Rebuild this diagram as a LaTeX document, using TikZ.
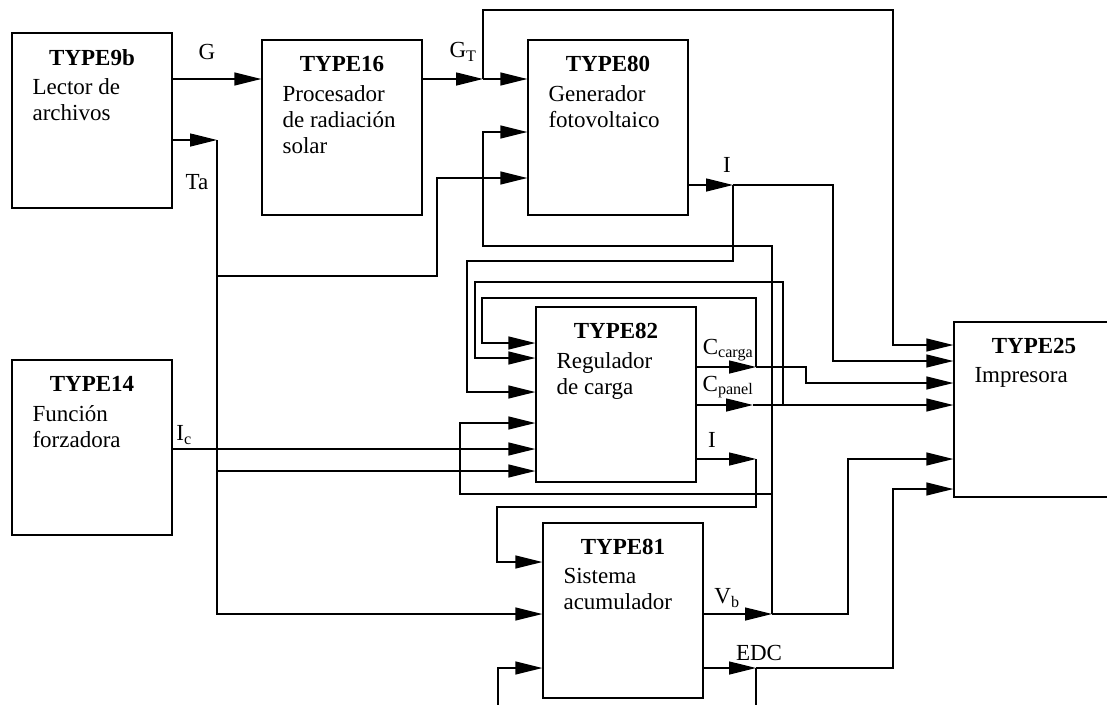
\documentclass[tikz,border=0pt]{standalone}
\usepackage{fontspec}
\setmainfont{Liberation Serif}
\usetikzlibrary{positioning,arrows.meta}
\begin{document}
\begin{tikzpicture}[x=1pt,y=-1pt,font=\fontsize{23}{26}\selectfont,
block/.style={draw,line width=1.3pt,minimum width=160pt,minimum height=175pt,inner sep=0pt},
ttl/.style={font=\fontsize{23}{26}\selectfont\bfseries,inner sep=0pt},
body/.style={align=left,inner sep=0pt},
lbl/.style={inner sep=0pt},
line/.style={line width=1.3pt,-{Triangle[length=27pt,width=13pt]}}]
\useasboundingbox (0,0) rectangle (1107,704);
% blocks
\node[block] (t9b) at (92,120.5) {};
\node[block] (t16) at (342,127.5) {};
\node[block] (t80) at (608,127.5) {};
\node[block] (t14) at (92,447.5) {};
\node[block] (t82) at (616,394.5) {};
\node[block] (t81) at (623,610.5) {};
\node[block] (t25) at (1034,409.5) {};
\node[ttl,below=17pt of t9b.north] {TYPE9b};
\node[body,below right=46pt and 21pt of t9b.north west] {Lector de\\archivos};
\node[ttl,below=17pt of t16.north] {TYPE16};
\node[body,below right=46pt and 21pt of t16.north west] {Procesador\\de radiación\\solar};
\node[ttl,below=17pt of t80.north] {TYPE80};
\node[body,below right=46pt and 21pt of t80.north west] {Generador\\fotovoltaico};
\node[ttl,below=17pt of t14.north] {TYPE14};
\node[body,below right=46pt and 21pt of t14.north west] {Función\\forzadora};
\node[ttl,below=17pt of t82.north] {TYPE82};
\node[body,below right=46pt and 21pt of t82.north west] {Regulador\\de carga};
\node[ttl,below=17pt of t81.north] {TYPE81};
\node[body,below right=46pt and 21pt of t81.north west] {Sistema\\acumulador};
\node[ttl,below=17pt of t25.north] {TYPE25};
\node[body,below right=46pt and 21pt of t25.north west] {Impresora};
% junctions
\coordinate (gt) at (483,79);
\coordinate (ta) at (217,140);
\coordinate (i80) at (733,185);
\coordinate (cc) at (756,367);
\coordinate (cp) at (753,405);
\coordinate (i82) at (756,459);
\coordinate (vb) at (772,614);
\coordinate (edc) at (756,668);
% signals
\draw[line] (t9b.east|-0,79) -- (t16.west|-0,79);
\draw[line] (t16.east|-gt) -- (gt);
\draw[line] (gt) -- (t80.west|-gt);
\draw[line] (gt) |- (893,10) |- (t25.west|-0,345);
\draw[line] (t9b.east|-ta) -- (ta);
\draw[line] (ta) |- (t81.west|-vb);
\draw[line] (ta|-0,276) -| (437,178) -- (t80.west|-0,178);
\draw[line] (ta|-0,471) -- (t82.west|-0,471);
\draw[line] (t14.east|-0,449) -- (t82.west|-0,449);
\draw[line] (t80.east|-i80) -- (i80);
\draw[line] (i80) -| (833,361) -- (t25.west|-0,361);
\draw[line] (i80) |- (467,261) |- (t82.west|-0,392);
\draw[line] (t82.east|-cc) -- (cc);
\draw[line] (cc) -| (806,383) -- (t25.west|-0,383);
\draw[line] (cc) |- (482,298) |- (t82.west|-0,343);
\draw[line] (t82.east|-cp) -- (cp);
\draw[line] (cp) -- (t25.west|-cp);
\draw[line] (cp-|783,0) |- (475,282) |- (t82.west|-0,358);
\draw[line] (t82.east|-i82) -- (i82);
\draw[line] (i82) |- (497,507) |- (t81.west|-0,562);
\draw[line] (t81.east|-vb) -- (vb);
\draw[line] (vb) -| (848,459) -- (t25.west|-0,459);
\draw[line] (vb) |- (483,246) |- (t80.west|-0,132);
\draw[line] (vb|-0,494) -| (460,423) -- (t82.west|-0,423);
\draw[line] (t81.east|-edc) -- (edc);
\draw[line] (edc) -| (893,489) -- (t25.west|-0,489);
\draw[line] (edc) |- (498,716) |- (t81.west|-edc);
% labels
\node[lbl] at (207,52) {G};
\node[lbl] at (463,52) {G\textsubscript{T}};
\node[lbl] at (197,182) {Ta};
\node[lbl] at (727,165) {I};
\node[lbl] at (184,435) {I\textsubscript{c}};
\node[lbl] at (728,350) {C\textsubscript{carga}};
\node[lbl] at (728,387) {C\textsubscript{panel}};
\node[lbl] at (712,440) {I};
\node[lbl] at (727,598) {V\textsubscript{b}};
\node[lbl] at (759,653) {EDC};
\end{tikzpicture}
\end{document}
